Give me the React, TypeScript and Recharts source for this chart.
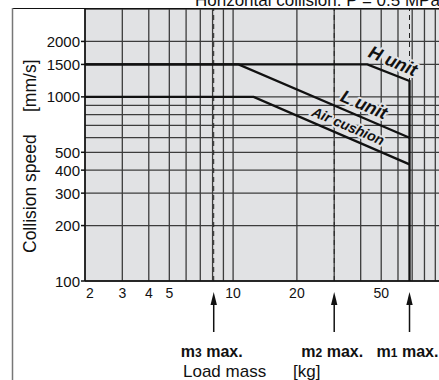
import React from 'react';
import { LineChart, Line, XAxis, YAxis, CartesianGrid, ReferenceLine, ReferenceDot } from 'recharts';

const FONT = '"Liberation Sans", Arial, Helvetica, sans-serif';

const X_GRID = [2, 3, 4, 5, 6, 7, 8, 9, 10, 20, 30, 40, 50, 60, 70, 80, 90, 100];
const X_LABELS = [2, 3, 4, 5, 10, 20, 50];
const Y_GRID = [100, 200, 300, 400, 500, 600, 700, 800, 900, 1000, 1500, 2000, 3000];
const Y_LABELS = [100, 200, 300, 400, 500, 1000, 1500, 2000];

const H_UNIT = [
  { m: 2, v: 1500 },
  { m: 43, v: 1500 },
  { m: 68, v: 1220 },
  { m: 68, v: 100 },
];
const L_UNIT = [
  { m: 2, v: 1500 },
  { m: 10.6, v: 1500 },
  { m: 68, v: 600 },
];
const AIR_CUSHION = [
  { m: 2, v: 1000 },
  { m: 12.5, v: 1000 },
  { m: 68, v: 430 },
];

const MAX_LOADS = [
  { name: '3', m: 8.1 },
  { name: '2', m: 30 },
  { name: '1', m: 68 },
];

const CURVE_LABELS = [
  { text: 'H unit', m: 56.9, v: 1570, size: 18 },
  { text: 'L unit', m: 41.5, v: 910, size: 18 },
  { text: 'Air cushion', m: 34.9, v: 695, size: 14 },
];

const TITLE = 'Horizontal collision: P = 0.5 MPa';
const X_TITLE = 'Load mass';
const X_UNIT = '[kg]';
const Y_TITLE = 'Collision speed';
const Y_UNIT = '[mm/s]';

const PLOT_FILL = '#e1e2e4';

const XTick = (props: any) => {
  const { x, y, payload } = props;
  if (!X_LABELS.includes(payload.value)) return <g />;
  const first = payload.value === X_LABELS[0];
  return (
    <text
      x={first ? x + 1 : x}
      y={y + 17}
      textAnchor={first ? 'start' : 'middle'}
      fontSize={14}
      fontFamily={FONT}
      fill="#111"
    >
      {payload.value}
    </text>
  );
};

const YTick = (props: any) => {
  const { x, y, payload } = props;
  if (!Y_LABELS.includes(payload.value)) return <g />;
  return (
    <g>
      <line x1={x - 4} x2={x} y1={y} y2={y} stroke="#111" strokeWidth={1.5} />
      <text x={x - 5} y={y + 5.5} textAnchor="end" fontSize={15} fontFamily={FONT} fill="#111">
        {payload.value}
      </text>
    </g>
  );
};

const ArrowLabel = (props: any) => {
  const { viewBox, name } = props;
  if (!viewBox) return null;
  const x = viewBox.x;
  const b = viewBox.y + viewBox.height;
  return (
    <g>
      <line x1={x} x2={x} y1={b + 20} y2={b + 51} stroke="#111" strokeWidth={1.5} />
      <polygon points={`${x},${b + 11} ${x - 3.2},${b + 24} ${x + 3.2},${b + 24}`} fill="#111" />
      <text
        x={x - 2}
        y={b + 76}
        textAnchor="middle"
        fontSize={16}
        fontWeight="bold"
        fontFamily={FONT}
        fill="#111"
      >
        <tspan>m</tspan>
        <tspan fontSize={12}>{name}</tspan>
        <tspan> max.</tspan>
      </text>
    </g>
  );
};

const curveLabelShape = (text: string, size: number) => (p: any) => (
  <text
    x={p.cx}
    y={p.cy}
    dy="0.35em"
    textAnchor="middle"
    transform={`rotate(23 ${p.cx} ${p.cy})`}
    fontSize={size}
    fontWeight="bold"
    fontStyle="italic"
    fontFamily={FONT}
    fill="#111"
    stroke={PLOT_FILL}
    strokeWidth={4}
    paintOrder="stroke"
    strokeLinejoin="round"
  >
    {text}
  </text>
);

export default function App() {
  return (
    <div style={{ position: 'absolute', left: 0, top: 0, width: 439, height: 380, overflow: 'hidden', background: '#fff' }}>
      <div style={{ position: 'absolute', left: 0, top: 0 }}>
        <LineChart width={445} height={380} margin={{ top: 9, right: 0, left: 0, bottom: 0 }}>
          <CartesianGrid
            fill={PLOT_FILL}
            stroke="#3c3c3c"
            strokeWidth={1.3}
            horizontal
            vertical
          />
          <XAxis
            dataKey="m"
            type="number"
            scale="log"
            domain={[2, 100]}
            allowDataOverflow
            ticks={X_GRID}
            interval={0}
            tick={<XTick />}
            tickSize={0}
            tickMargin={0}
            height={99}
            axisLine={{ stroke: '#111', strokeWidth: 1.5 }}
            tickLine={false}
          />
          <YAxis
            dataKey="v"
            type="number"
            scale="log"
            domain={[100, 3000]}
            allowDataOverflow
            ticks={Y_GRID}
            interval={0}
            tick={<YTick />}
            tickSize={0}
            tickMargin={0}
            width={85}
            axisLine={{ stroke: '#111', strokeWidth: 1.5 }}
            tickLine={false}
          />
          {MAX_LOADS.map((d) => (
            <ReferenceLine
              key={d.name}
              x={d.m}
              stroke="#222"
              strokeWidth={1}
              strokeDasharray="5 4"
              label={<ArrowLabel name={d.name} />}
            />
          ))}
          <Line data={H_UNIT} dataKey="v" type="linear" stroke="#111" strokeWidth={2.3} dot={false} isAnimationActive={false} />
          <Line data={L_UNIT} dataKey="v" type="linear" stroke="#111" strokeWidth={2.3} dot={false} isAnimationActive={false} />
          <Line data={AIR_CUSHION} dataKey="v" type="linear" stroke="#111" strokeWidth={2.3} dot={false} isAnimationActive={false} />
          {CURVE_LABELS.map((l) => (
            <ReferenceDot key={l.text} x={l.m} y={l.v} r={0} shape={curveLabelShape(l.text, l.size)} />
          ))}
        </LineChart>
      </div>
      <svg width={439} height={380} style={{ position: 'absolute', left: 0, top: 0, pointerEvents: 'none' }}>
        <line x1={12} x2={439} y1={8.5} y2={8.5} stroke="#111" strokeWidth={1.2} />
        <line x1={12.5} x2={12.5} y1={8} y2={380} stroke="#777" strokeWidth={1.5} />
        <text x={195} y={6} fontSize={17} fontFamily={FONT} fill="#111">{TITLE}</text>
        <text x={183} y={377} fontSize={17} fontFamily={FONT} fill="#111">{X_TITLE}</text>
        <text x={293} y={377} fontSize={17} fontFamily={FONT} fill="#111">{X_UNIT}</text>
        <text x={36} y={253} fontSize={17.5} fontFamily={FONT} fill="#111" transform="rotate(-90 36 253)">{Y_TITLE}</text>
        <text x={36} y={112} fontSize={17.5} fontFamily={FONT} fill="#111" transform="rotate(-90 36 112)">{Y_UNIT}</text>
      </svg>
    </div>
  );
}
